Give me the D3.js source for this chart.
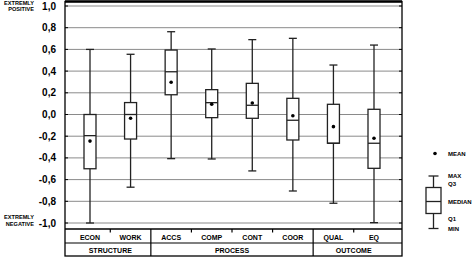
<!DOCTYPE html>
<html><head><meta charset="utf-8">
<script src="https://cdn.jsdelivr.net/npm/d3@7"></script>
<style>body{margin:0;background:#fff}svg{display:block}text{font-family:"Liberation Sans",Arial,sans-serif;font-weight:bold}</style>
</head><body><svg id="c" width="473" height="257"></svg>
<script>
const categories = ["ECON","WORK","ACCS","COMP","CONT","COOR","QUAL","EQ"];
const groups = ["STRUCTURE","STRUCTURE","PROCESS","PROCESS","PROCESS","PROCESS","OUTCOME","OUTCOME"];
const maxV    = [0.60, 0.555, 0.763, 0.604, 0.69, 0.702, 0.456, 0.64];
const q3V     = [0.00, 0.11, 0.594, 0.229, 0.287, 0.149, 0.094, 0.048];
const medianV = [-0.195, 0.0, 0.394, 0.109, 0.085, -0.053, -0.265, -0.265];
const q1V     = [-0.50, -0.226, 0.182, -0.029, -0.035, -0.235, -0.265, -0.496];
const minV    = [-1.0, -0.67, -0.407, -0.41, -0.52, -0.705, -0.818, -0.997];
const meanV   = [-0.245, -0.035, 0.297, 0.094, 0.106, -0.011, -0.112, -0.219];
const yTicks  = [1.0,0.8,0.6,0.4,0.2,0.0,-0.2,-0.4,-0.6,-0.8,-1.0];

const svg = d3.select("#c");
const L = 65, R = 402, T = 1.5;
const y = d3.scaleLinear().domain([-1,1]).range([223,6]);
const x = d3.scalePoint().domain(categories).range([90,374]);
const fmt = v => d3.format(".1f")(v).replace(".", ",").replace("−","-");

// gridlines
svg.append("g").selectAll("line").data(yTicks).join("line")
  .attr("x1",L).attr("x2",R).attr("y1",d=>y(d)).attr("y2",d=>y(d))
  .attr("stroke","#8a8a8a").attr("stroke-width",1);
// ticks at both sides
svg.append("g").selectAll("line").data(yTicks).join("line")
  .attr("x1",L).attr("x2",L+3).attr("y1",d=>y(d)).attr("y2",d=>y(d)).attr("stroke","#000");
svg.append("g").selectAll("line").data(yTicks).join("line")
  .attr("x1",R-3).attr("x2",R).attr("y1",d=>y(d)).attr("y2",d=>y(d)).attr("stroke","#000");
// tick labels
svg.append("g").selectAll("text").data(yTicks).join("text")
  .attr("x",56).attr("y",d=>y(d)+3.5).attr("text-anchor","end")
  .attr("font-size",10).text(d=>fmt(d));

// side labels
const side = [["EXTREMLY",34,4.5],["POSITIVE",34,11],["EXTREMLY",34,219],["NEGATIVE",34,225.5]];
svg.append("g").selectAll("text").data(side).join("text")
  .attr("x",d=>d[1]).attr("y",d=>d[2]).attr("text-anchor","end")
  .attr("font-size",5.6).text(d=>d[0]);

// frame
const B1 = 229, B2 = 243, B3 = 256;
svg.append("rect").attr("x",L).attr("y",T).attr("width",R-L).attr("height",B3-T)
  .attr("fill","none").attr("stroke","#000").attr("stroke-width",1.3);
svg.append("line").attr("x1",L).attr("x2",R).attr("y1",T).attr("y2",T).attr("stroke","#000").attr("stroke-width",2.5);
svg.append("line").attr("x1",L).attr("x2",R).attr("y1",B1).attr("y2",B1).attr("stroke","#000").attr("stroke-width",1.3);
svg.append("line").attr("x1",L).attr("x2",R).attr("y1",B2).attr("y2",B2).attr("stroke","#000").attr("stroke-width",1.2);

// category labels and separators
const step = x.step();
svg.append("g").selectAll("text").data(categories).join("text")
  .attr("x",d=>x(d)).attr("y",239.5).attr("text-anchor","middle").attr("font-size",7).text(d=>d);
const seps = categories.slice(0,-1).map((c,i)=>({x:x(c)+step/2, full: groups[i]!==groups[i+1]}));
svg.append("g").selectAll("line").data(seps).join("line")
  .attr("x1",d=>d.x).attr("x2",d=>d.x).attr("y1",B1).attr("y2",d=>d.full?B3:B1+3.5)
  .attr("stroke","#000").attr("stroke-width",1.2);
// group labels
const gNames = Array.from(new Set(groups));
const gData = gNames.map(g=>{const idx=categories.filter((c,i)=>groups[i]===g).map(c=>x(c));return {g, cx:(d3.min(idx)+d3.max(idx))/2};});
svg.append("g").selectAll("text").data(gData).join("text")
  .attr("x",d=>d.cx).attr("y",252.5).attr("text-anchor","middle").attr("font-size",7).text(d=>d.g);

// boxes
const bw = 12, cw = 8;
const data = categories.map((c,i)=>({c,max:maxV[i],q3:q3V[i],med:medianV[i],q1:q1V[i],min:minV[i],mean:meanV[i]}));
const g = svg.append("g").attr("stroke","#222").attr("stroke-width",1.3);
data.forEach(d=>{
  const cx = x(d.c);
  g.append("line").attr("x1",cx).attr("x2",cx).attr("y1",y(d.max)).attr("y2",y(d.q3));
  g.append("line").attr("x1",cx).attr("x2",cx).attr("y1",y(d.q1)).attr("y2",y(d.min));
  g.append("line").attr("x1",cx-cw/2).attr("x2",cx+cw/2).attr("y1",y(d.max)).attr("y2",y(d.max));
  g.append("line").attr("x1",cx-cw/2).attr("x2",cx+cw/2).attr("y1",y(d.min)).attr("y2",y(d.min));
  g.append("rect").attr("x",cx-bw/2).attr("y",y(d.q3)).attr("width",bw).attr("height",y(d.q1)-y(d.q3)).attr("fill","#fff");
  g.append("line").attr("x1",cx-bw/2).attr("x2",cx+bw/2).attr("y1",y(d.med)).attr("y2",y(d.med));
  svg.append("circle").attr("cx",cx).attr("cy",y(d.mean)).attr("r",1.8).attr("fill","#000");
});

// legend
const lx = 433.5;
svg.append("circle").attr("cx",435).attr("cy",153.5).attr("r",1.8).attr("fill","#000");
const lg = svg.append("g").attr("stroke","#222").attr("stroke-width",1.3);
lg.append("line").attr("x1",lx).attr("x2",lx).attr("y1",176).attr("y2",228.5);
lg.append("line").attr("x1",lx-5).attr("x2",lx+5).attr("y1",176).attr("y2",176);
lg.append("line").attr("x1",lx-5).attr("x2",lx+5).attr("y1",228.5).attr("y2",228.5);
lg.append("rect").attr("x",lx-7.5).attr("y",187.5).attr("width",15).attr("height",26).attr("fill","#fff");
lg.append("line").attr("x1",lx-7.5).attr("x2",lx+7.5).attr("y1",201.5).attr("y2",201.5);
const legT = [["MEAN",155.5],["MAX",177.5],["Q3",186],["MEDIAN",203.5],["Q1",221],["MIN",230.5]];
svg.append("g").selectAll("text").data(legT).join("text")
  .attr("x",448).attr("y",d=>d[1]).attr("font-size",6).text(d=>d[0]);
</script></body></html>
